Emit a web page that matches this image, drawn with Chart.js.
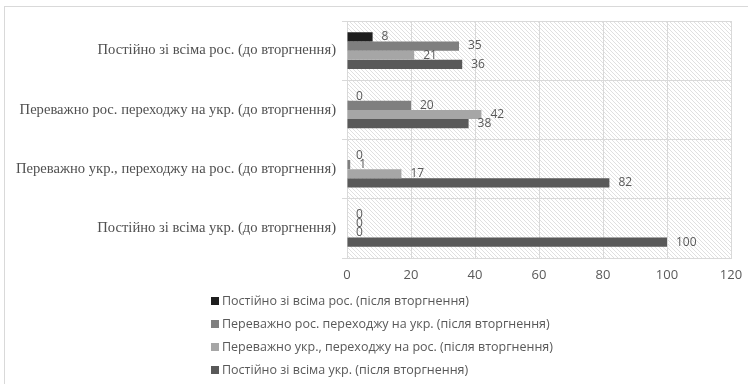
<!DOCTYPE html>
<html>
<head>
<meta charset="utf-8">
<script src="https://cdn.jsdelivr.net/npm/chart.js@4/dist/chart.umd.min.js"></script>
<style>
  body { margin: 0; background: #fff; }
</style>
</head>
<body>
<canvas id="js--chart--1" width="748" height="384"></canvas>
<script>
// categories (before the invasion)
const labels = [
    "Постійно зі всіма рос. (до вторгнення)",
    "Переважно рос. переходжу на укр. (до вторгнення)",
    "Переважно укр., переходжу на рос. (до вторгнення)",
    "Постійно зі всіма укр. (до вторгнення)"
];

// series (after the invasion)
const seriesNames = [
    "Постійно зі всіма рос. (після вторгнення)",
    "Переважно рос. переходжу на укр. (після вторгнення)",
    "Переважно укр., переходжу на рос. (після вторгнення)",
    "Постійно зі всіма укр. (після вторгнення)"
];
const allRus = [8, 0, 0, 0];
const rusToUkr = [35, 20, 1, 0];
const ukrToRus = [21, 42, 17, 0];
const allUkr = [36, 38, 82, 100];

const xTicks = [0, 20, 40, 60, 80, 100, 120];

const colors = ["#1e1e1e", "#7f7f7f", "#a6a6a6", "#595959"];
const seriesValues = [allRus, rusToUkr, ukrToRus, allUkr];

const data = {
    labels: labels,
    datasets: seriesValues.map(function(values, i){
        return {
            label: seriesNames[i],
            data: values,
            backgroundColor: colors[i],
            categoryPercentage: 0.62,
            barPercentage: 1
        };
    })
};

// diagonal hatch for the plot background
function hatchPattern(ctx){
    const tile = document.createElement("canvas");
    tile.width = 4;
    tile.height = 4;
    const t = tile.getContext("2d");
    t.fillStyle = "#ffffff";
    t.fillRect(0, 0, 4, 4);
    t.strokeStyle = "#e0e0e0";
    t.lineWidth = 1;
    t.beginPath();
    t.moveTo(-1, -1); t.lineTo(5, 5);
    t.moveTo(-1, 3); t.lineTo(1, 5);
    t.moveTo(3, -1); t.lineTo(5, 1);
    t.stroke();
    return ctx.createPattern(tile, "repeat");
}

const background = {
    id: "background",
    beforeDraw: function(chart){
        const ctx = chart.ctx;
        const area = chart.chartArea;
        ctx.save();
        ctx.fillStyle = "#ffffff";
        ctx.fillRect(0, 0, chart.width, chart.height);
        // outer frame
        ctx.strokeStyle = "#d9d9d9";
        ctx.lineWidth = 1;
        ctx.strokeRect(4.5, 6.5, chart.width + 20, chart.height + 20);
        ctx.fillStyle = hatchPattern(ctx);
        ctx.fillRect(area.left, area.top, area.right - area.left, area.bottom - area.top);
        ctx.restore();
    }
};

// value next to the end of each bar
const valueLabels = {
    id: "valueLabels",
    afterDatasetsDraw: function(chart){
        const ctx = chart.ctx;
        ctx.save();
        ctx.font = "12px 'Open Sans'";
        ctx.fillStyle = "#595959";
        ctx.textAlign = "left";
        ctx.textBaseline = "middle";
        chart.data.datasets.forEach(function(ds, i){
            chart.getDatasetMeta(i).data.forEach(function(bar, j){
                ctx.fillText(String(ds.data[j]), bar.x + 9, bar.y);
            });
        });
        ctx.restore();
    }
};

// legend stacked in one column under the axis
const columnLegend = {
    id: "columnLegend",
    afterDraw: function(chart){
        const ctx = chart.ctx;
        ctx.save();
        ctx.font = "12.5px 'Open Sans'";
        ctx.textAlign = "left";
        ctx.textBaseline = "middle";
        chart.data.datasets.forEach(function(ds, i){
            const y = 301 + i * 23;
            ctx.fillStyle = ds.backgroundColor;
            ctx.fillRect(211, y - 4, 8, 8);
            ctx.fillStyle = "#595959";
            ctx.fillText(ds.label, 222, y);
        });
        ctx.restore();
    }
};

const config = {
    type: "bar",
    data: data,
    options: {
        indexAxis: "y",
        responsive: false,
        animation: false,
        layout: {
            padding: { left: 0, right: 17, top: 21, bottom: 96 }
        },
        plugins: {
            legend: { display: false },
            tooltip: { enabled: false }
        },
        scales: {
            x: {
                min: 0,
                max: 120,
                afterBuildTicks: function(scale){
                    scale.ticks = xTicks.map(function(v){ return { value: v }; });
                },
                afterFit: function(scale){
                    scale.height = 30;
                    scale.paddingLeft = 0;
                    scale.paddingRight = 0;
                },
                grid: { color: "#d9d9d9", drawTicks: false },
                border: { color: "#d9d9d9" },
                ticks: {
                    padding: 9,
                    color: "#595959",
                    font: { family: "'Open Sans'", size: 13 }
                }
            },
            y: {
                afterFit: function(scale){ scale.width = 347; },
                grid: { color: "#d9d9d9", tickLength: 5 },
                border: { color: "#d9d9d9" },
                ticks: {
                    padding: 6,
                    color: "#505050",
                    font: { family: "'Liberation Serif'", size: 14.6 }
                }
            }
        }
    },
    plugins: [background, valueLabels, columnLegend]
};

const chart1 = new Chart(document.getElementById("js--chart--1"), config);
</script>
</body>
</html>
